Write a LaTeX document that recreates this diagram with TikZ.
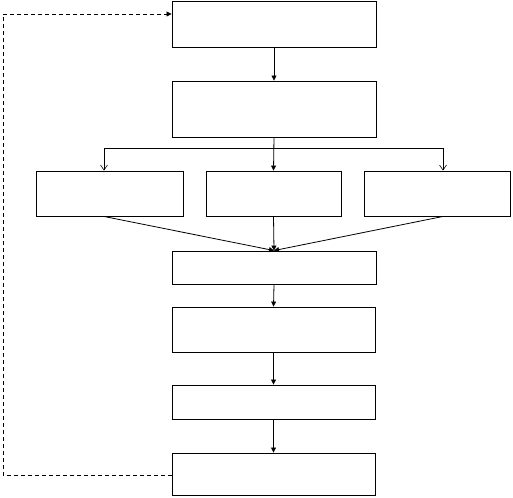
\documentclass[tikz,border=0pt]{standalone}
\usetikzlibrary{arrows.meta}
\begin{document}
\begin{tikzpicture}[x=1pt,y=-1pt,
  box/.style={draw, line width=0.9pt, inner sep=0pt},
  conn/.style={line width=0.8pt, -{Triangle[length=5pt,width=5pt]}},
  open/.style={line width=0.8pt, -{Straight Barb[length=5pt,width=7pt,line width=0.6pt]}},
  feedback/.style={line width=0.8pt, dashed, dash pattern=on 4pt off 3pt, -{Triangle[length=5pt,width=5pt]}}]
\useasboundingbox (0,0) rectangle (513,497);
\node[box, minimum width=204pt, minimum height=46pt] (b1) at (274,24) {};
\node[box, minimum width=204pt, minimum height=56pt] (b2) at (274,109) {};
\node[box, minimum width=147pt, minimum height=45pt] (l) at (109.5,193.5) {};
\node[box, minimum width=135pt, minimum height=45pt] (m) at (273.5,193.5) {};
\node[box, minimum width=146pt, minimum height=45pt] (r) at (437,193.5) {};
\node[box, minimum width=204pt, minimum height=33pt] (b4) at (274,267.5) {};
\node[box, minimum width=203pt, minimum height=45pt] (b5) at (273.5,329.5) {};
\node[box, minimum width=203pt, minimum height=34pt] (b6) at (273.5,402) {};
\node[box, minimum width=203pt, minimum height=42pt] (b7) at (273.5,474) {};
\coordinate (jl) at (104,148);
\coordinate (jm) at (274,148);
\coordinate (jr) at (443,148);
\coordinate (fb1) at (3,475);
\coordinate (fb2) at (3,14);
\draw[conn] (b1.south) -- (b2.north);
\draw[conn] (b2.south) -- (m.north);
\draw[open] (jm) -- (jl) -- (l.north -| jl);
\draw[open] (jm) -- (jr) -- (r.north -| jr);
\draw[conn] (l.south -| jl) -- (b4.north);
\draw[conn] (r.south -| jr) -- (b4.north);
\draw[conn] (m.south) -- (b4.north);
\draw[conn] (b4.south) -- (b5.north);
\draw[conn] (b5.south) -- (b6.north);
\draw[conn] (b6.south) -- (b7.north);
\draw[feedback] (b7.west |- fb1) -- (fb1) -- (fb2) -- (b1.west |- fb2);
\end{tikzpicture}
\end{document}
